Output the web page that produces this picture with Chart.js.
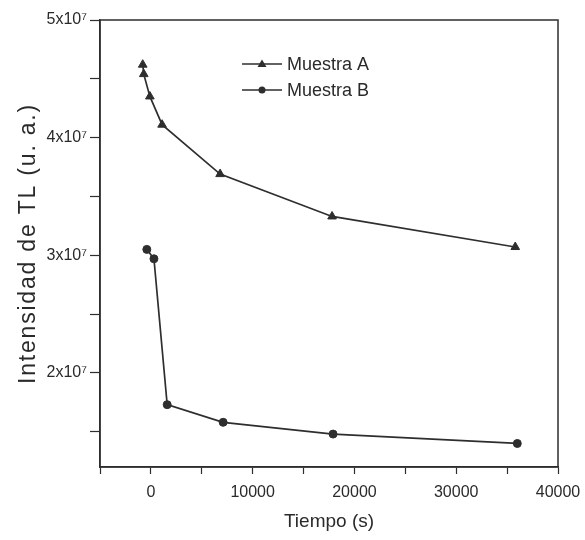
<!DOCTYPE html>
<html lang="es">
<head>
  <meta charset="UTF-8">
  <title>Intensidad de TL vs Tiempo</title>
  <style>
    body {
      margin: 0;
      background: #fff;
    }
    .wrap {
      width: 585px;
      height: 540px;
    }
  </style>
</head>
<body>
  <div class="wrap">
    <canvas id="tlChart" width="585" height="540"></canvas>
  </div>
  <script src="https://cdn.jsdelivr.net/npm/chart.js"></script>
  <script>
    // Datos
    const tiempoA = [-800, -700, -100, 1100, 6800, 17800, 35800];
    const muestraA = [4.62e7, 4.54e7, 4.35e7, 4.11e7, 3.69e7, 3.33e7, 3.07e7];
    const tiempoB = [-400, 300, 1600, 7100, 17900, 36000];
    const muestraB = [3.05e7, 2.97e7, 1.73e7, 1.58e7, 1.48e7, 1.40e7];

    const xTicks = [-5000, 0, 5000, 10000, 15000, 20000, 25000, 30000, 35000, 40000];
    const yTicks = [1.5e7, 2e7, 2.5e7, 3e7, 3.5e7, 4e7, 4.5e7, 5e7];

    const ink = "#2e2e2e";
    const textInk = "#2a2a2a";
    const fontFam = "'Liberation Sans', Arial, sans-serif";

    // Marco completo alrededor del area del grafico
    const framePlugin = {
      id: "frame",
      afterDraw(chart) {
        const { ctx, chartArea: a } = chart;
        ctx.save();
        ctx.strokeStyle = ink;
        ctx.lineWidth = 1.5;
        ctx.strokeRect(a.left, a.top, a.right - a.left, a.bottom - a.top);
        ctx.restore();
      }
    };

    // Titulo del eje Y, con letras algo separadas como en el original
    const yTitlePlugin = {
      id: "yTitle",
      afterDraw(chart) {
        const { ctx, chartArea: a } = chart;
        ctx.save();
        ctx.translate(29, (a.top + a.bottom) / 2);
        ctx.rotate(-Math.PI / 2);
        ctx.fillStyle = textInk;
        ctx.font = "23px " + fontFam;
        ctx.letterSpacing = "1.8px";
        ctx.textAlign = "center";
        ctx.textBaseline = "middle";
        ctx.fillText("Intensidad de TL (u. a.)", 0, 0);
        ctx.restore();
      }
    };

    // Leyenda dentro del grafico
    const legendPlugin = {
      id: "inlineLegend",
      afterDraw(chart) {
        const { ctx, chartArea: a } = chart;
        const x0 = a.left + 142;
        const rows = [
          { label: "Muestra A", style: "triangle", y: a.top + 44 },
          { label: "Muestra B", style: "circle", y: a.top + 70 }
        ];
        ctx.save();
        rows.forEach(r => {
          ctx.strokeStyle = ink;
          ctx.lineWidth = 1.5;
          ctx.beginPath();
          ctx.moveTo(x0, r.y);
          ctx.lineTo(x0 + 40, r.y);
          ctx.stroke();
          ctx.fillStyle = ink;
          ctx.beginPath();
          if (r.style === "triangle") {
            ctx.moveTo(x0 + 20, r.y - 4.5);
            ctx.lineTo(x0 + 24.5, r.y + 3);
            ctx.lineTo(x0 + 15.5, r.y + 3);
            ctx.closePath();
          } else {
            ctx.arc(x0 + 20, r.y, 3.5, 0, Math.PI * 2);
          }
          ctx.fill();
          ctx.fillStyle = textInk;
          ctx.font = "18px " + fontFam;
          ctx.textBaseline = "middle";
          ctx.fillText(r.label, x0 + 45, r.y + 1);
        });
        ctx.restore();
      }
    };

    const ctx = document.getElementById("tlChart").getContext("2d");
    new Chart(ctx, {
      type: "line",
      data: {
        datasets: [
          {
            label: "Muestra A",
            data: tiempoA.map((t, i) => ({ x: t, y: muestraA[i] })),
            borderColor: ink,
            backgroundColor: ink,
            borderWidth: 1.7,
            pointStyle: "triangle",
            pointRadius: 5,
            pointBorderWidth: 1,
            tension: 0
          },
          {
            label: "Muestra B",
            data: tiempoB.map((t, i) => ({ x: t, y: muestraB[i] })),
            borderColor: ink,
            backgroundColor: ink,
            borderWidth: 1.7,
            pointStyle: "circle",
            pointRadius: 4,
            pointBorderWidth: 1,
            tension: 0
          }
        ]
      },
      options: {
        responsive: false,
        animation: false,
        layout: {
          padding: { top: 20, right: 27, bottom: 3, left: 18 }
        },
        plugins: {
          legend: { display: false },
          tooltip: { enabled: false }
        },
        scales: {
          x: {
            type: "linear",
            min: -5000,
            max: 40000,
            afterBuildTicks: s => { s.ticks = xTicks.map(v => ({ value: v })); },
            afterFit: s => { s.height = 70; s.paddingRight = 0; s.paddingLeft = 0; },
            grid: {
              drawOnChartArea: false,
              drawTicks: true,
              tickLength: 7,
              tickColor: ink,
              tickWidth: 1.2
            },
            border: { color: ink, width: 1.5 },
            ticks: {
              color: textInk,
              font: { family: fontFam, size: 16 },
              padding: 9,
              maxRotation: 0,
              autoSkip: false,
              callback: v => (v % 10000 === 0 ? String(v) : "")
            },
            title: {
              display: true,
              text: "Tiempo (s)",
              color: textInk,
              font: { family: fontFam, size: 19 }
            }
          },
          y: {
            type: "linear",
            min: 1.2e7,
            max: 5e7,
            afterBuildTicks: s => { s.ticks = yTicks.map(v => ({ value: v })); },
            afterFit: s => { s.width = 82; },
            grid: {
              drawOnChartArea: false,
              drawTicks: true,
              tickLength: 10,
              tickColor: ink,
              tickWidth: 1.2
            },
            border: { color: ink, width: 1.5 },
            ticks: {
              color: textInk,
              font: { family: fontFam, size: 16 },
              padding: 3,
              autoSkip: false,
              callback: v => (v % 1e7 === 0 ? (v / 1e7) + "x10\u2077" : "")
            },
            title: { display: false }
          }
        }
      },
      plugins: [framePlugin, yTitlePlugin, legendPlugin]
    });
  </script>
</body>
</html>
